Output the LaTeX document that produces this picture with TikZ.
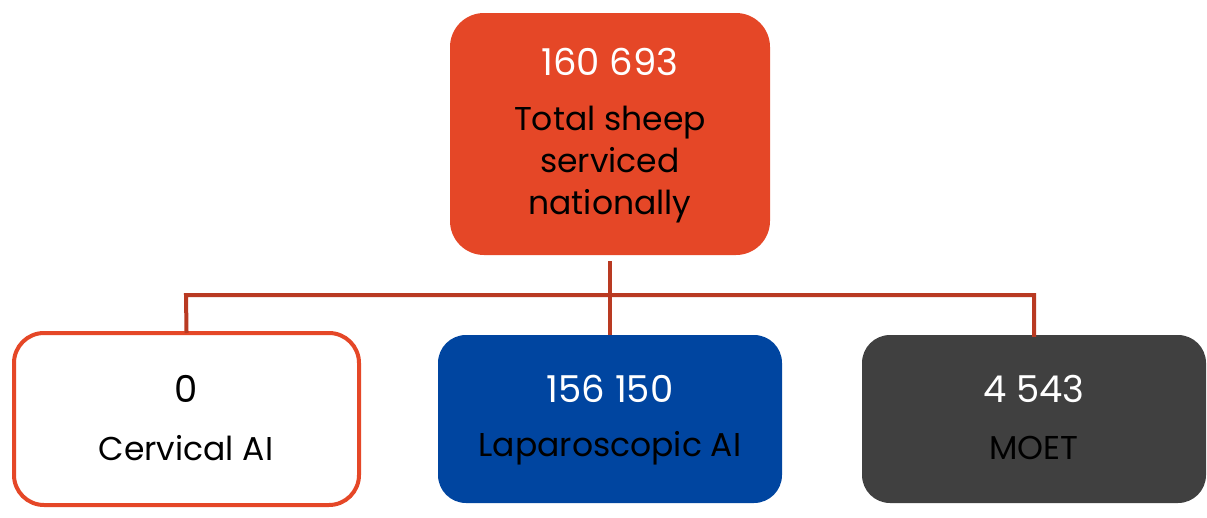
\documentclass[tikz,border=0pt]{standalone}
\usepackage{fontspec}
\setmainfont{Poppins}
\definecolor{topfill}{HTML}{E54727}
\definecolor{linec}{HTML}{B93A22}
\definecolor{bluefill}{HTML}{0045A0}
\definecolor{greyfill}{HTML}{404040}
\begin{document}
\begin{tikzpicture}[x=1pt,y=-1pt,
  conn/.style={draw=linec, line width=4pt},
  num/.style={font=\fontsize{37}{40}\selectfont, text=white, inner sep=0pt},
  lab/.style={font=\fontsize{33}{42}\selectfont, text=black, align=center, inner sep=0pt}]
\useasboundingbox (0,0) rectangle (1207,517);
% boxes
\node[draw=none, fill=topfill, rounded corners=34pt, minimum width=320pt, minimum height=242pt] (top) at (610,134) {};
\node[draw=topfill, line width=4pt, fill=white, rounded corners=30pt, minimum width=345pt, minimum height=172pt] (cerv) at (186.5,419) {};
\node[fill=bluefill, rounded corners=28pt, minimum width=344pt, minimum height=168pt] (lap) at (610,419) {};
\node[fill=greyfill, rounded corners=28pt, minimum width=344pt, minimum height=168pt] (moet) at (1034,419) {};
% texts
\node[num] (tn) at (610,62) {160 693};
\node[lab] (tl) at (610,165) {Total sheep\\serviced\\nationally};
\node[num, text=black] (cn) at (186,389) {0};
\node[lab] (cl) at (186,448) {Cervical AI};
\node[num] (ln) at (610,389) {156 150};
\node[lab] (ll) at (610,448) {Laparoscopic AI};
\node[num] (mn) at (1034,389) {4 543};
\node[lab] (ml) at (1034,448) {MOET};
% connectors
\draw[conn] (610,261) -- (lap.north);
\draw[conn, line cap=rect] (cerv.north) -- (186,295) -- (1034,295) -- (moet.north);
\end{tikzpicture}
\end{document}
